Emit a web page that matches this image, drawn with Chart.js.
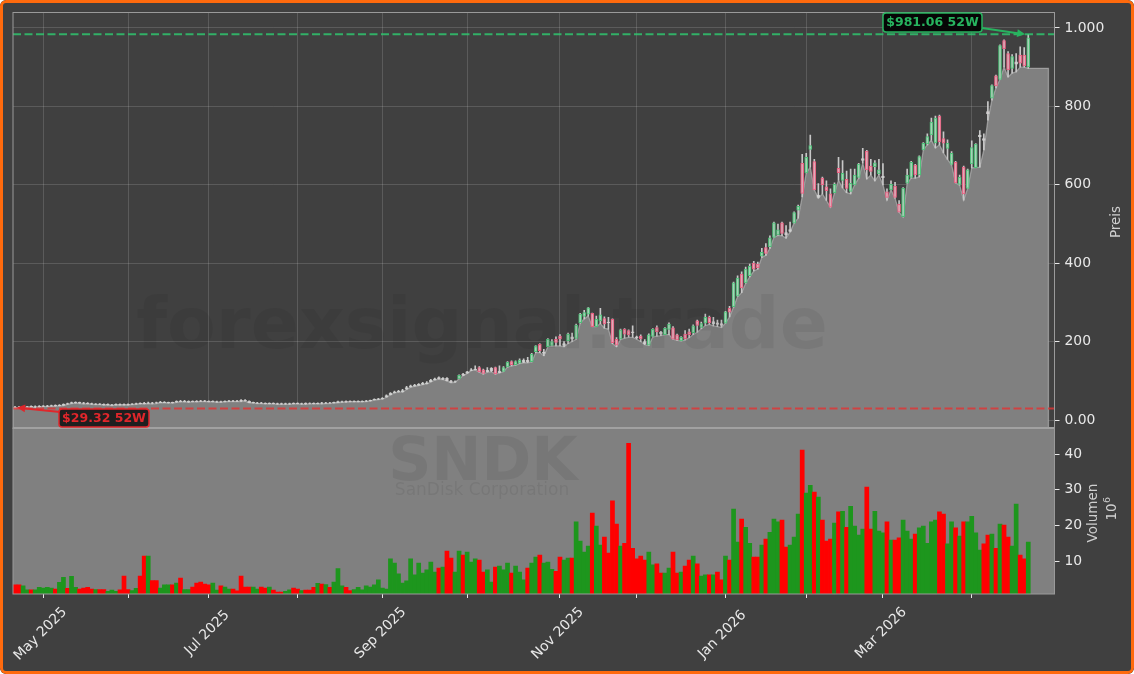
<!DOCTYPE html>
<html>
<head>
<meta charset="utf-8">
<title>SNDK</title>
<style>
    html, body { margin: 0; padding: 0; background: #fff; }
    #frame { position: relative; width: 1134px; height: 674px; overflow: hidden; border-radius: 6px; background: #404040; }
    #frame::after { content: ''; position: absolute; inset: 0; border: 3px solid #ff6a0d; border-radius: 6px; pointer-events: none; }
    canvas { display: block; }
</style>
<script src="https://cdn.jsdelivr.net/npm/chart.js@4/dist/chart.umd.min.js"></script>
</head>
<body>
<div id="frame"><canvas id="stockChart" width="1134" height="674"></canvas></div>
<script>
const opens = [
    33,33,31.5,32.5,35,33,33.5,34.5,34.5,35.5,
    37.5,36.5,37.5,42,42.5,43.5,45,44,43,42,
    39.5,41,40,38.5,37.5,38.5,40,40,40,39.5,
    40.5,43,43,42.5,44,44.5,44.5,44.5,43.5,45,
    45.5,48,46.5,45.5,48,48,49,49,48,46.5,
    45.5,47,46.5,47.5,49,49,50,50,48,43.5,
    42.5,44,43,41.5,43,42,42,40.5,40.5,43,
    43,41,43,43,43,41.5,43.5,42.5,44,43.5,
    44.5,45.5,47.5,48,46.5,46.5,46.5,47.5,48.5,51.5,
    52.5,53.5,58.5,64.5,69.5,71.5,72,78.5,84.5,86.5,
    88.5,90.5,92.5,97.5,102.5,108,103.5,106,100,96.5,
    105,117,119.5,126.5,128.5,134,128,123,126,134,
    121,124,135.5,149,141,145,147,152,149,174,
    193,170,187,190,206,214,190,202,212,208,
    248,264,270,272,238,253,259,250,257,206,
    206,231,228,225,212,214,200,191,213,236,
    224,218,231,235,217,202,219,225,223,253,
    236,247,262,245,248,246,247,285,289,316,
    372,350,368,400,398,418,440,442,466,472,
    503,478,481,502,535,655,630,690,659,568,
    617,595,577,580,642,611,614,583,600,619,
    662,686,648,646,628,618,582,587,597,550,
    519,604,619,650,625,689,704,727,707,775,
    718,693,652,657,601,645,591,653,644,723,
    718,787,821,878,869,968,935,897,908,931,931,901
];
const closes = [
    30.5,31.5,33,34,33.5,34.5,35,36,36,37,
    36,38,40,40.5,44.5,45,43,42,41.5,40.5,
    41,39.5,38.5,40,39,40,38.5,38.5,38.5,41,
    42,41.5,41.5,44,42,43,46,46,45,43.5,
    47.5,46.5,48,47.5,46.5,46.5,47.5,47.5,46.5,48,
    47,45.5,48,49,47.5,47.5,48,48.5,44.5,45,
    44,42.5,41.5,43,41.5,40.5,40.5,42,42,41.5,
    41.5,42,41.5,42,41.5,43,42,44,43,45,
    47,47,46,46.5,48,48,48,49,50,53,
    54,55,62,68,72,74,75,83,87,89,
    91,94,95,102,105,105.5,106,100,96,98,
    114,113.5,123,128,130,122.5,119,127,132,117.5,
    125,134,147,141,149,153,153,148,168,189,
    177,173,206,200,198,207,195,219,206,242,
    270,274,286,238,257,268,245,248,197,191,
    230,219,217,223,210,207,195,217,231,225,
    219,234,245,206,204,211,207,218,240,241,
    246,262,248,251,244,241,276,275,350,362,
    337,385,392,385,388,428,425,465,503,485,
    476,472,486,529,545,578,670,700,587,573,
    600,585,543,601,631,629,591,604,625,653,
    667,638,634,656,638,622,568,601,568,530,
    591,625,657,625,672,706,723,760,770,710,
    706,706,680,605,619,577,638,695,704,727,
    713,781,853,852,955,947,893,927,914,910,903,975
];
const highs = [
    35,35,34.5,35,36,36,36.5,37,37.5,38,
    39,39.5,41,43,46,46.5,46,45,44.5,43,
    42,42,41,41,40,41,41,41.5,41,42,
    43,44,45,46,45,46,47.5,47,46,46,
    49,50,50,49,49,49.5,50,50,49,49,
    48,48,49,50,50,50,52,52,49,46,
    45,45,44,44,44,43,43,43,43,44,
    44,43,44,44,44,44,45,45,45,46,
    48,48,49,49,49,49,49,50,51,54,
    55,57,64,70,74,76,78,86,89,91,
    93,96,98,104,107,110,108,108,101,100,
    115,119,124,131,138,136,130,134,134,135,
    138,136,149,151,151,156,156,160,170,190,
    195,180,208,205,212,218,200,222,222,245,
    272,280,287,273,265,285,263,262,258,210,
    232,233,230,240,214,217,205,220,233,240,
    226,236,248,238,219,213,228,232,243,255,
    250,270,265,262,255,255,277,290,352,368,
    378,390,398,405,403,438,450,470,505,500,
    505,496,505,531,548,678,680,727,665,603,
    620,610,590,605,670,662,635,640,640,655,
    693,688,665,662,665,654,590,610,606,560,
    593,640,660,652,674,708,730,770,775,778,
    735,715,685,660,625,648,640,712,705,738,
    730,812,855,880,957,970,940,932,935,952,950,984
];
const lows = [
    29.32,31,31,32,33,32,33,34,34,35,
    35,36,37,40,42,43,42,41,41,40,
    39,39,38,38,37,38,38,38,38,39,
    40,41,41,42,41,42,44,44,43,43,
    45,46,46,45,46,46,47,47,46,46,
    45,45,46,47,47,47,47,48,44,43,
    42,42,41,41,41,40,40,40,40,41,
    41,40,40,41,41,41,41,42,42,43,
    44,45,45,46,46,46,46,47,48,51,
    52,53,58,64,69,71,71,78,84,86,
    88,90,92,97,102,104,103,100,95,96,
    105,113,119,126,128,122,117,122,123,117,
    120,123,135,138,140,144,146,146,148,172,
    172,164,187,189,189,189,187,195,200,206,
    247,258,265,238,238,246,234,232,195,187,
    205,209,211,211,206,200,192,190,212,214,
    215,218,218,206,203,202,204,210,218,224,
    233,241,244,240,238,236,247,263,288,315,
    325,349,365,380,385,415,420,438,466,471,
    470,464,480,502,515,569,630,645,587,566,
    577,560,543,579,612,592,580,577,600,617,
    655,615,625,610,625,600,561,587,566,530,
    518,604,617,617,620,689,702,714,694,702,
    681,665,651,605,599,561,591,643,644,645,
    689,765,816,847,869,900,875,885,888,900,900,897
];
const volumes = [
    3.3,3.3,3.0,1.9,1.9,1.9,2.6,2.4,2.6,2.4,
    2.1,4.0,5.4,2.3,5.7,2.6,2.1,2.4,2.6,2.1,
    2.0,2.0,2.0,1.5,1.8,1.5,1.9,5.8,2.0,1.7,
    2.3,5.8,11.4,11.4,4.5,4.5,2.4,3.3,3.3,3.3,
    3.8,5.2,2.0,2.0,2.7,3.8,4.1,3.5,3.3,3.8,
    1.8,3.0,2.7,2.1,2.1,1.6,5.8,2.7,2.7,2.7,
    2.1,2.7,2.4,2.7,1.8,1.3,1.3,1.5,1.9,2.4,
    2.1,1.7,1.8,1.8,2.6,3.7,3.5,3.4,2.6,4.1,
    7.9,3,2.6,1.7,2,2.6,1.9,3,2.7,3.3,
    4.7,2.4,2.1,10.6,9.4,6.4,3.8,4.4,10.6,6.1,
    9.4,6.6,7.5,9.7,6.9,8,8.3,12.8,10.8,6.9,
    12.8,11.7,12.5,9.7,10.6,10.3,6.9,7.5,4.1,8.3,
    8.6,7.5,9.4,6.6,8.6,6.9,4.7,8,9.4,11.1,
    11.7,9.4,9.7,7.7,7.1,11.1,10.3,10.8,10.8,21,
    15.6,12.5,14.2,23.5,19.8,14.5,16.7,12.2,26.9,20.4,
    14.2,15,43.1,13.6,10.6,11.4,10.3,12.5,8.9,9.2,
    6.6,6.6,8,12.5,6.6,6.9,8.6,10.3,11.4,9.2,
    5.8,6.1,6.1,6.1,6.9,4.7,11.4,10.3,24.6,15.3,
    21.8,19.5,15,11.1,11.1,14.5,16.2,18.1,21.8,21,
    21.5,13.9,14.5,16.7,23.2,41.2,29.1,31.3,29.4,28,
    21.5,15.6,16.2,20.7,23.8,24,19.5,25.4,19.8,17.3,
    19,30.8,19,24,18.4,17.9,21,15.9,15.9,16.5,
    21.5,18.4,16.2,17.6,19.3,19.8,15,21,21.5,23.8,
    23.2,14.8,21,19.3,17,21,21,22.6,17.9,13.1,
    14.8,17.3,17.6,13.6,20.4,20.1,16.7,14.2,26,11.7,10.6,15.3
];
const areaTail = [897, 897, 897, 897, 897];

const monthTicks = [7, 28, 48, 70, 91, 112, 135, 154, 176, 196, 215, 237];
// trailing no-break space keeps the short month names centred under their rotated tick
const monthLabels = ['May 2025', '', 'Jul 2025\u00a0', '', 'Sep 2025', '', 'Nov 2025', '', 'Jan 2026\u00a0', '', 'Mar 2026', ''];
const priceTicks = [0, 200, 400, 600, 800, 1000];
const priceTickLabels = ['0.00', '200', '400', '600', '800', '1.000'];
const volumeTicks = [10, 20, 30, 40];
const high52 = 981.06;
const highLine = 984;
const low52 = 29.32;

const xMin = -0.5;
const xMax = 257.5;
const priceMin = -20.4;
const priceMax = 1040.8;

const upEdge = '#4dbf77';
const downEdge = '#e85f80';
const paleEdge = 'rgba(210,210,210,0.85)';
const barGreen = '#1d961d';
const barRed = '#ff0000';
const textColor = '#e8e8e8';
const font = "'DejaVu Sans', sans-serif";

const isUp = opens.map((o, i) => closes[i] >= o);
const isThin = opens.map((o, i) => Math.abs(closes[i] - o) < 7);

const areaData = [{ x: xMin, y: priceMin }, { x: xMin, y: lows[0] }];
lows.forEach((v, i) => areaData.push({ x: i, y: v }));
areaTail.forEach((v, i) => areaData.push({ x: lows.length + i, y: v }));
areaData.push({ x: lows.length + areaTail.length - 1, y: priceMin });

function setTicks(values) {
    return scale => { scale.ticks = values.map(v => ({ value: v })); };
}

// panes, watermark and the two 52W labels
const paneDecor = {
    id: 'paneDecor',
    beforeDatasetsDraw(chart) {
        const { ctx, scales } = chart;
        const v = scales.yv;
        ctx.save();
        ctx.fillStyle = '#808080';
        ctx.fillRect(scales.x.left, v.top, scales.x.width, v.height);
        ctx.restore();
    },
    afterDatasetsDraw(chart) {
        const { ctx, scales } = chart;
        const { x, y, yv } = scales;
        ctx.save();

        ctx.textAlign = 'center';
        ctx.textBaseline = 'middle';
        ctx.fillStyle = 'rgba(0,0,0,0.06)';
        ctx.font = 'bold 71px ' + font;
        ctx.fillText('forexsignal.trade', 482, 330);
        ctx.fillStyle = 'rgba(0,0,0,0.07)';
        ctx.font = 'bold 60px ' + font;
        ctx.fillText('SNDK', 483, 464);
        ctx.font = '17px ' + font;
        ctx.fillText('SanDisk Corporation', 482, 491);

        ctx.strokeStyle = '#9a9a9a';
        ctx.lineWidth = 1;
        ctx.strokeRect(x.left, y.top + 0.5, x.width, y.height);
        ctx.strokeStyle = '#a8a8a8';
        ctx.lineWidth = 2;
        ctx.beginPath();
        ctx.moveTo(x.left, y.bottom);
        ctx.lineTo(x.right, y.bottom);
        ctx.stroke();
        ctx.lineWidth = 1;
        ctx.strokeStyle = '#9a9a9a';
        ctx.strokeRect(x.left, yv.top, x.width, yv.height);

        const tipHigh = [x.getPixelForValue(lows.length - 1) - 3, y.getPixelForValue(highLine)];
        const tipLow = [x.getPixelForValue(0) + 2, y.getPixelForValue(low52) - 1];
        drawLabel(ctx, '$' + high52 + ' 52W', [883, 13, 99, 19], [982, 28], tipHigh, '#27b45f', 'rgba(0,0,0,0.9)');
        drawLabel(ctx, '$' + low52 + ' 52W', [59, 409, 90, 18], [60, 412], tipLow, '#e0262b', 'rgba(20,20,20,0.9)');

        ctx.fillStyle = '#cfcfcf';
        ctx.textBaseline = 'middle';
        ctx.font = '13.5px ' + font;
        vText(ctx, 'Preis', 1116, 222);
        vText(ctx, 'Volumen', 1093, 513);
        vText(ctx, '10', 1112, 512);
        ctx.font = '9.5px ' + font;
        vText(ctx, '6', 1108, 500);
        ctx.restore();
    }
};

function vText(ctx, text, px, py) {
    ctx.save();
    ctx.translate(px, py);
    ctx.rotate(-Math.PI / 2);
    ctx.textAlign = 'center';
    ctx.fillText(text, 0, 0);
    ctx.restore();
}

function drawLabel(ctx, text, box, from, tip, color, fill) {
    const angle = Math.atan2(tip[1] - from[1], tip[0] - from[0]);
    ctx.strokeStyle = color;
    ctx.fillStyle = color;
    ctx.lineWidth = 2;
    ctx.beginPath();
    ctx.moveTo(from[0], from[1]);
    ctx.lineTo(tip[0] - 6 * Math.cos(angle), tip[1] - 6 * Math.sin(angle));
    ctx.stroke();
    ctx.beginPath();
    ctx.moveTo(tip[0], tip[1]);
    ctx.lineTo(tip[0] - 9 * Math.cos(angle - 0.45), tip[1] - 9 * Math.sin(angle - 0.45));
    ctx.lineTo(tip[0] - 9 * Math.cos(angle + 0.45), tip[1] - 9 * Math.sin(angle + 0.45));
    ctx.closePath();
    ctx.fill();

    ctx.beginPath();
    ctx.roundRect(box[0], box[1], box[2], box[3], 3);
    ctx.fillStyle = fill;
    ctx.fill();
    ctx.lineWidth = 1.5;
    ctx.stroke();
    ctx.fillStyle = color;
    ctx.font = 'bold 12.5px ' + font;
    ctx.textAlign = 'center';
    ctx.textBaseline = 'middle';
    ctx.fillText(text, box[0] + box[2] / 2, box[1] + box[3] / 2 + 0.5);
}

const ctx = document.getElementById('stockChart').getContext('2d');

new Chart(ctx, {
    type: 'bar',
    data: {
        datasets: [
            {
                type: 'line',
                data: [{ x: xMin, y: highLine }, { x: xMax, y: highLine }],
                borderColor: 'rgba(46,204,113,0.8)',
                borderWidth: 1.8,
                borderDash: [8, 3.5],
                pointRadius: 0,
                yAxisID: 'y'
            },
            {
                type: 'line',
                data: [{ x: xMin, y: low52 }, { x: xMax, y: low52 }],
                borderColor: 'rgba(226,50,50,0.8)',
                borderWidth: 1.8,
                borderDash: [8, 3.5],
                pointRadius: 0,
                yAxisID: 'y'
            },
            {
                data: opens.map((o, i) => ({ x: i, y: [o, closes[i]] })),
                backgroundColor: isUp.map(u => (u ? 'rgba(205,215,208,0.6)' : 'rgba(220,200,205,0.6)')),
                borderColor: isThin.map((t, i) => (t ? paleEdge : isUp[i] ? upEdge : downEdge)),
                borderWidth: 1,
                borderSkipped: false,
                barThickness: 3,
                grouped: false,
                yAxisID: 'y'
            },
            {
                data: highs.map((h, i) => ({ x: i, y: [lows[i], h] })),
                backgroundColor: '#c8c8c8',
                barThickness: 1,
                grouped: false,
                yAxisID: 'y'
            },
            {
                data: volumes.map((v, i) => ({ x: i, y: v })),
                backgroundColor: isUp.map(u => (u ? barGreen : barRed)),
                barThickness: 4.04,
                grouped: false,
                yAxisID: 'yv'
            },
            {
                type: 'line',
                data: areaData,
                borderColor: 'rgba(180,180,180,0.7)',
                borderWidth: 1.3,
                backgroundColor: '#808080',
                fill: 'start',
                pointRadius: 0,
                tension: 0,
                yAxisID: 'y'
            }
        ]
    },
    options: {
        responsive: false,
        animation: false,
        layout: { padding: { top: 12, left: 13, right: 0, bottom: 0 } },
        plugins: {
            legend: { display: false },
            tooltip: { enabled: false }
        },
        scales: {
            x: {
                type: 'linear',
                min: xMin,
                max: xMax,
                offset: false,
                afterBuildTicks: setTicks(monthTicks),
                afterFit: scale => {
                    scale.height = 80;
                    scale.paddingLeft = 0;
                    scale.paddingRight = 0;
                },
                border: { display: false },
                grid: {
                    offset: false,
                    color: 'rgba(255,255,255,0.14)',
                    tickColor: '#e8e8e8',
                    tickLength: 4
                },
                ticks: {
                    autoSkip: false,
                    includeBounds: false,
                    minRotation: 45,
                    maxRotation: 45,
                    labelOffset: 21.5,
                    padding: 6,
                    color: textColor,
                    font: { family: font, size: 13.9 },
                    callback: value => monthLabels[monthTicks.indexOf(value)]
                }
            },
            y: {
                position: 'right',
                stack: 'panes',
                stackWeight: 416,
                min: priceMin,
                max: priceMax,
                afterBuildTicks: setTicks(priceTicks),
                afterFit: scale => {
                    scale.width = 79.5;
                    scale.paddingTop = 0;
                    scale.paddingBottom = 0;
                },
                border: { display: false },
                grid: {
                    color: 'rgba(255,255,255,0.14)',
                    tickColor: '#e8e8e8',
                    tickLength: 5
                },
                ticks: {
                    padding: 5,
                    color: textColor,
                    font: { family: font, size: 13.9 },
                    callback: value => priceTickLabels[priceTicks.indexOf(value)]
                }
            },
            yv: {
                position: 'right',
                stack: 'panes',
                stackWeight: 166,
                min: 0.73,
                max: 47.4,
                afterBuildTicks: setTicks(volumeTicks),
                afterFit: scale => {
                    scale.width = 79.5;
                    scale.paddingTop = 0;
                    scale.paddingBottom = 0;
                },
                border: { display: false },
                grid: {
                    drawOnChartArea: false,
                    tickColor: '#e8e8e8',
                    tickLength: 5
                },
                ticks: {
                    padding: 5,
                    color: textColor,
                    font: { family: font, size: 13.9 }
                }
            }
        }
    },
    plugins: [paneDecor]
});
</script>
</body>
</html>
